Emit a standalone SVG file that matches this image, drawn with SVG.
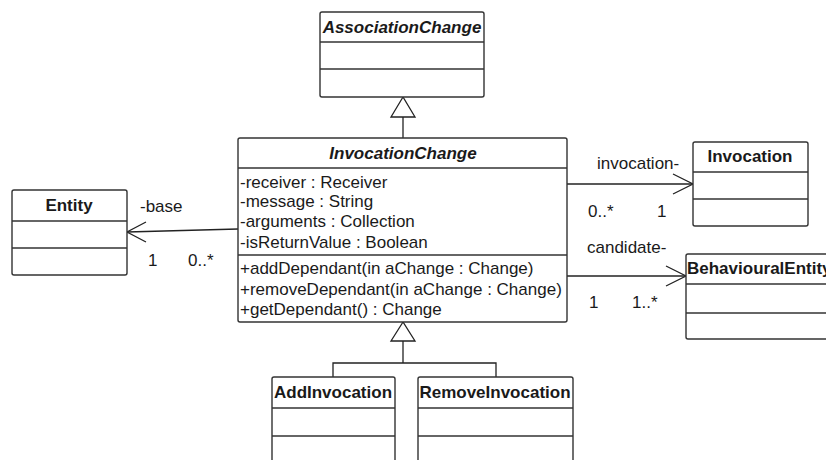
<svg xmlns="http://www.w3.org/2000/svg" width="826" height="460" viewBox="0 0 826 460">
  <style>
    .box { fill: #ffffff; stroke: #333333; stroke-width: 1.4; }
    .sep { stroke: #333333; stroke-width: 1.4; }
    .edge { fill: none; stroke: #222222; stroke-width: 1.3; }
    .gen { fill: #ffffff; stroke: #222222; stroke-width: 1.3; }
    text { font-family: "Liberation Sans", Arial, sans-serif; font-size: 17px; fill: #1a1a1a; }
    .name { font-weight: bold; text-anchor: middle; }
    .abstract { font-weight: bold; font-style: italic; text-anchor: middle; }
  </style>
  <rect width="826" height="460" fill="#ffffff"/>

  <!-- connectors -->
  <g id="connectors">
    <!-- generalization: InvocationChange -> AssociationChange -->
    <line class="edge" x1="403" y1="138" x2="403" y2="117"/>
    <polygon class="gen" points="403,97 391,117 415,117"/>
    <!-- generalization: subclasses -> InvocationChange -->
    <polyline class="edge" points="333,377 333,363 496,363 496,377"/>
    <line class="edge" x1="403" y1="363" x2="403" y2="341"/>
    <polygon class="gen" points="403,322 391,341 415,341"/>
    <!-- association: base -->
    <line class="edge" x1="238" y1="229" x2="127" y2="232"/>
    <polyline class="edge" points="146,222 127,232 146,242"/>
    <text x="140" y="212">-base</text>
    <text x="148" y="266">1</text>
    <text x="188" y="266">0..*</text>
    <!-- association: invocation -->
    <line class="edge" x1="567" y1="184" x2="693" y2="184"/>
    <polyline class="edge" points="673,174 693,184 673,194"/>
    <text x="597" y="169">invocation-</text>
    <text x="588" y="217">0..*</text>
    <text x="657" y="217">1</text>
    <!-- association: candidate -->
    <line class="edge" x1="567" y1="276" x2="686" y2="276"/>
    <polyline class="edge" points="666,266 686,276 666,286"/>
    <text x="587" y="253">candidate-</text>
    <text x="589" y="308">1</text>
    <text x="632" y="308">1..*</text>
  </g>

  <g id="AssociationChange">
    <rect class="box" x="320" y="12" width="164" height="85" rx="2"/>
    <line class="sep" x1="320" y1="42" x2="484" y2="42"/>
    <line class="sep" x1="320" y1="69" x2="484" y2="69"/>
    <text class="abstract" x="402" y="33">AssociationChange</text>
  </g>

  <g id="InvocationChange">
    <rect class="box" x="238" y="138" width="329" height="184" rx="2"/>
    <line class="sep" x1="238" y1="168" x2="567" y2="168"/>
    <line class="sep" x1="238" y1="255" x2="567" y2="255"/>
    <text class="abstract" x="403" y="159">InvocationChange</text>
    <text x="240" y="188">-receiver : Receiver</text>
    <text x="240" y="207">-message : String</text>
    <text x="240" y="227">-arguments : Collection</text>
    <text x="240" y="248">-isReturnValue : Boolean</text>
    <text x="240" y="274">+addDependant(in aChange : Change)</text>
    <text x="240" y="295">+removeDependant(in aChange : Change)</text>
    <text x="240" y="315">+getDependant() : Change</text>
  </g>

  <g id="Entity">
    <rect class="box" x="12" y="190" width="115" height="85" rx="2"/>
    <line class="sep" x1="12" y1="221" x2="127" y2="221"/>
    <line class="sep" x1="12" y1="248" x2="127" y2="248"/>
    <text class="name" x="69" y="211">Entity</text>
  </g>

  <g id="Invocation">
    <rect class="box" x="693" y="142" width="115" height="84" rx="2"/>
    <line class="sep" x1="693" y1="172" x2="808" y2="172"/>
    <line class="sep" x1="693" y1="199" x2="808" y2="199"/>
    <text class="name" x="750" y="162">Invocation</text>
  </g>

  <g id="BehaviouralEntity">
    <rect class="box" x="686" y="254" width="150" height="85" rx="2"/>
    <line class="sep" x1="686" y1="284" x2="836" y2="284"/>
    <line class="sep" x1="686" y1="313" x2="836" y2="313"/>
    <text x="687" y="274" font-weight="bold">BehaviouralEntity</text>
  </g>

  <g id="AddInvocation">
    <rect class="box" x="272" y="377" width="123" height="100" rx="2"/>
    <line class="sep" x1="272" y1="408" x2="395" y2="408"/>
    <line class="sep" x1="272" y1="436" x2="395" y2="436"/>
    <text class="name" x="333" y="398">AddInvocation</text>
  </g>

  <g id="RemoveInvocation">
    <rect class="box" x="418" y="377" width="155" height="100" rx="2"/>
    <line class="sep" x1="418" y1="408" x2="573" y2="408"/>
    <line class="sep" x1="418" y1="436" x2="573" y2="436"/>
    <text class="name" x="495" y="398">RemoveInvocation</text>
  </g>
</svg>
